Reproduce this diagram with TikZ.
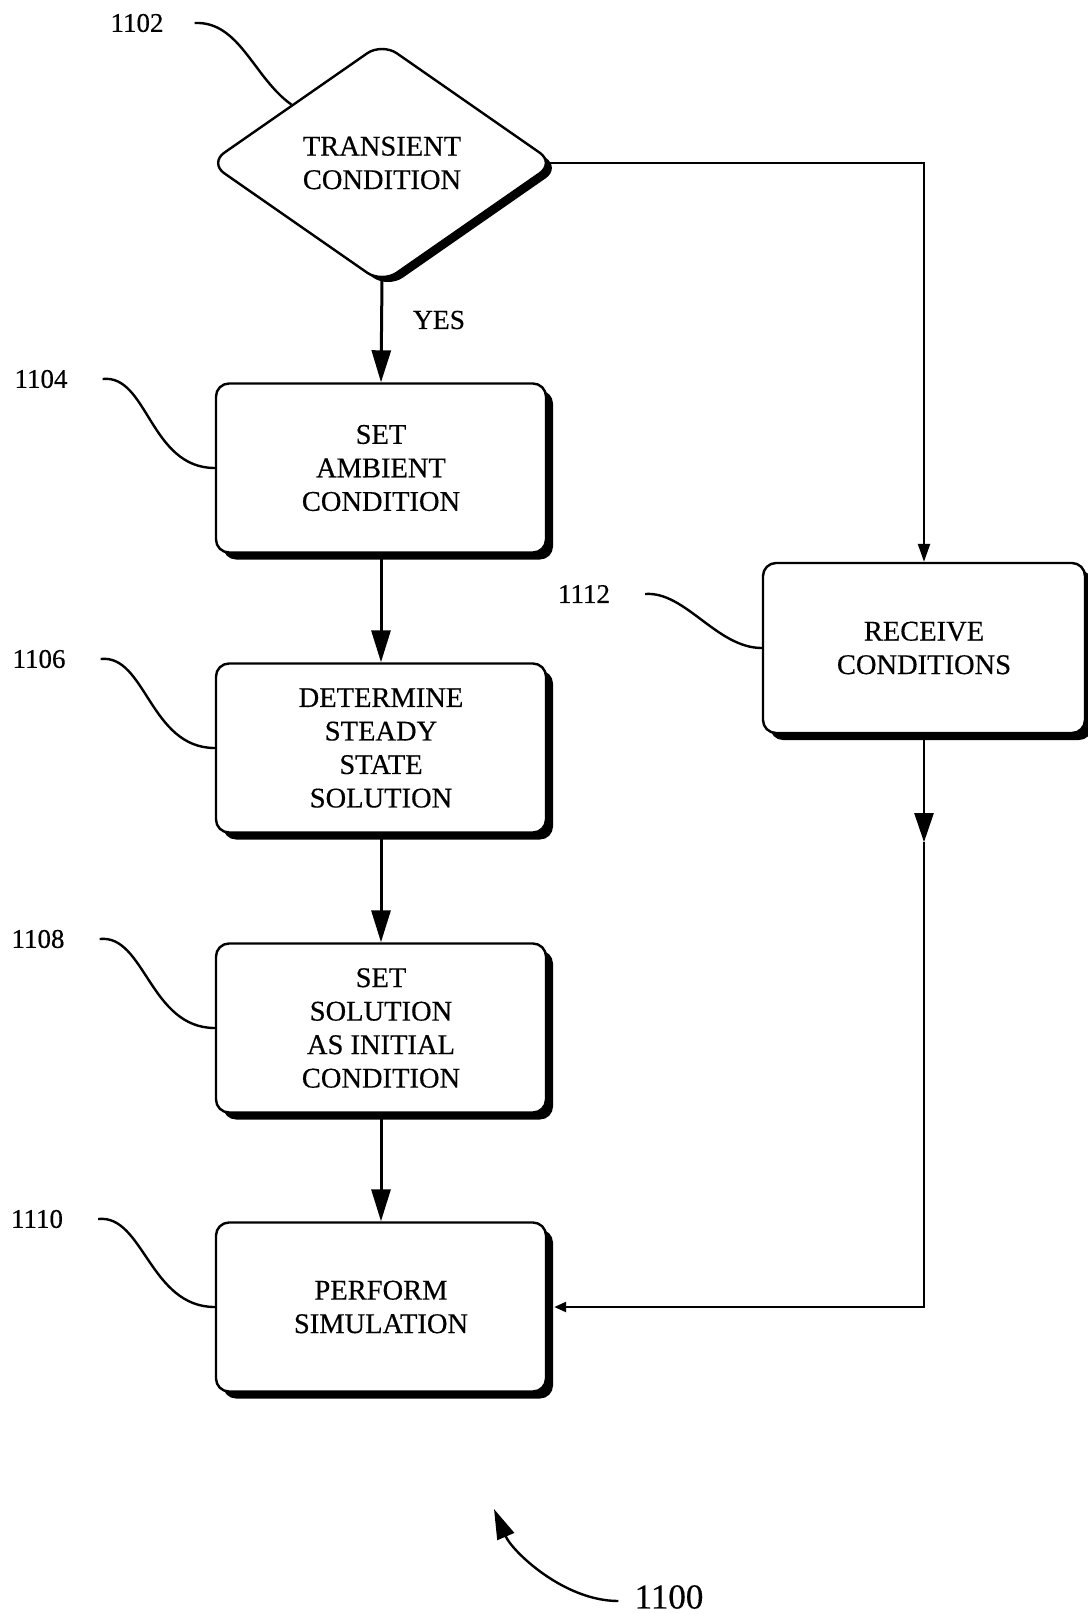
\documentclass[tikz,border=0pt]{standalone}
\usepackage{fontspec}
\setmainfont[FakeBold=0.4]{Liberation Serif}
\usetikzlibrary{shapes.geometric,shadows,arrows.meta,calc}
\begin{document}
\begin{tikzpicture}[x=1pt,y=-1pt,
  txt/.style={font=\fontsize{28.5}{33.5}\selectfont},
  box/.style={txt, draw, line width=2.4pt, rounded corners=13pt, fill=white,
    minimum width=330pt, minimum height=169pt, align=center, inner sep=0pt,
    drop shadow={shadow xshift=7pt, shadow yshift=-7pt, fill=black, opacity=1}},
  dec/.style={txt, draw, diamond, line width=2.4pt, rounded corners=18pt, fill=white,
    minimum width=346pt, minimum height=241pt, inner sep=0pt, align=center,
    drop shadow={shadow xshift=6pt, shadow yshift=-5pt, fill=black, opacity=1}},
  ref/.style={inner sep=0pt, font=\fontsize{27}{27}\selectfont},
  flow/.style={line width=3pt, -{Triangle[length=32pt,width=19pt]}},
  route/.style={line width=2.3pt},
  lead/.style={line width=2.4pt},
]
\useasboundingbox (0,0) rectangle (1087,1614);
\fill[white] (0,0) rectangle (1087,1614);

% nodes
\node[dec] (d) at (382,163) {TRANSIENT\\CONDITION};
\node[box] (b1) at (381,468) {SET\\AMBIENT\\CONDITION};
\node[box] (b2) at (381,748) {DETERMINE\\STEADY\\STATE\\SOLUTION};
\node[box] (b3) at (381,1028) {SET\\SOLUTION\\AS INITIAL\\CONDITION};
\node[box] (b4) at (381,1307) {PERFORM\\SIMULATION};
\node[box, minimum width=322pt, minimum height=170pt] (b5) at (924,648) {RECEIVE\\CONDITIONS};

% labels
\node[ref] (l1102) at (137,23) {1102};
\node[ref] (l1104) at (41,379) {1104};
\node[ref] (l1106) at (39,659) {1106};
\node[ref] (l1108) at (38,939) {1108};
\node[ref] (l1110) at (37,1219) {1110};
\node[ref] (l1112) at (584,594) {1112};
\node[ref, font=\fontsize{35}{35}\selectfont] (l1100) at (669,1597) {1100};
\node[inner sep=0pt, font=\fontsize{27.5}{27.5}\selectfont] (yes) at (439,320) {YES};

% flow connectors
\draw[flow] ([yshift=5pt]d.south) -- (b1.north);
\draw[flow] (b1.south) -- (b2.north);
\draw[flow] (b2.south) -- (b3.north);
\draw[flow] (b3.south) -- (b4.north);
\draw[route, -{Triangle[length=18pt,width=12pt]}] ([xshift=-9pt]d.east) -| (b5.north);
\coordinate (m) at ($(b5.south)+(0,108)$);
\draw[route, -{Triangle[length=29pt,width=19pt]}] (b5.south) -- (m);
\draw[route, -{Triangle[length=12pt,width=10pt]}] (m) -- (m |- b4.east) -- ([xshift=7pt]b4.east);

% leaders
\draw[lead] ([xshift=31pt]l1102.east) .. controls +(45,-2) and +(-38,-27) .. ($(d.west)!0.48!(d.north)$);
\draw[lead] ([xshift=35pt]l1104.east) .. controls +(45,-5) and +(-65,0) .. (b1.west);
\draw[lead] ([xshift=35pt]l1106.east) .. controls +(45,-5) and +(-65,0) .. (b2.west);
\draw[lead] ([xshift=35pt]l1108.east) .. controls +(45,-5) and +(-65,0) .. (b3.west);
\draw[lead] ([xshift=35pt]l1110.east) .. controls +(45,-5) and +(-65,0) .. (b4.west);
\draw[lead] ([xshift=35pt]l1112.east) .. controls +(40,-3) and +(-45,0) .. (b5.west);

% figure reference arrow
\coordinate (t1100) at (494,1509);
\draw[line width=2.4pt, -{Triangle[length=30pt,width=18pt]}] ([xshift=-16pt,yshift=-4pt]l1100.west) .. controls +(-55,0) and +(18,42) .. (t1100);
\end{tikzpicture}
\end{document}
